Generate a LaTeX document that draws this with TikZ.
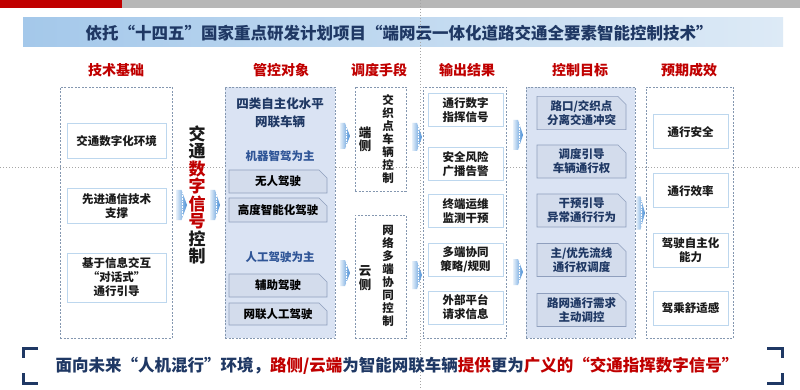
\documentclass[tikz,border=0pt]{standalone}
\usepackage{fontspec}
\setmainfont{Noto Sans CJK SC}
\usetikzlibrary{shapes.misc}
\definecolor{navy}{HTML}{1F3864}
\definecolor{hred}{HTML}{C00000}
\definecolor{dashc}{HTML}{8497B0}
\definecolor{lblue}{HTML}{BDD7EE}
\definecolor{panel}{HTML}{DAE3F3}
\definecolor{chip}{HTML}{D3DCEC}
\definecolor{chipd}{HTML}{8F9FBD}
\definecolor{midblue}{HTML}{2F5597}
\definecolor{guide}{HTML}{A6A6A6}
\definecolor{txt}{HTML}{1A1A1A}
\definecolor{arrL}{HTML}{E6F0FA}
\definecolor{arrR}{HTML}{4A8FD6}
\definecolor{banL}{HTML}{A4C8EA}
\definecolor{banR}{HTML}{DDEAF6}
\definecolor{topgray}{HTML}{B7B7B7}
\newcommand\fA{\bfseries\fontsize{11.5}{14}\selectfont}
\newcommand\fV{\bfseries\fontsize{11.5}{13}\selectfont}
\newcommand\fB{\bfseries\fontsize{12.5}{18}\selectfont}
\newcommand\fH{\bfseries\fontsize{14}{16}\selectfont}
\newcommand\fT{\bfseries\fontsize{16.5}{18}\selectfont}
\newcommand\fK{\bfseries\fontsize{17}{17.5}\selectfont}
\newcommand\barrow[4]{%
  \shade[left color=arrL, right color=arrR]
    (#1,{#2-#4/2}) -- ({#1+0.5*#3},{#2-#4/2}) -- ({#1+#3},#2)
    -- ({#1+0.5*#3},{#2+#4/2}) -- (#1,{#2+#4/2}) -- cycle;
  \draw[white, line width=0.7pt, dash pattern=on 0.7pt off 0.9pt]
    ({#1+0.62*#3},{#2-#4/2+3}) -- ({#1+0.62*#3},{#2+#4/2-3});}
\tikzset{
  dashbox/.style={draw=dashc, line width=0.8pt, dash pattern=on 2pt off 1.5pt, inner sep=0, outer sep=0},
  panelbox/.style={dashbox, fill=panel},
  wbox/.style={draw=lblue, fill=white, line width=1pt, inner sep=0, align=center, font=\fA, text=txt},
  chipbox/.style={chamfered rectangle, chamfered rectangle corners=north east,
    chamfered rectangle xsep=4pt, chamfered rectangle ysep=4pt,
    draw=chipd, fill=chip, line width=0.6pt, inner sep=0, align=center, font=\fA},
  head/.style={font=\fH, text=hred, inner sep=0},
  vtext/.style={font=\fV, align=center, inner sep=0, text=txt},
}
\begin{document}
\begin{tikzpicture}[x=1pt,y=-1pt]
\useasboundingbox (0,0) rectangle (800,390);
\fill[white] (0,0) rectangle (800,390);
% top bars
\fill[hred] (0,0) rectangle (122,8);
\fill[topgray] (122,0) rectangle (800,8);
% banner
\shade[left color=banL, right color=banR] (23,18) rectangle (783,47);
\node[font=\fT, text=navy, inner sep=0] (title) at (399,33) {依托“十四五”国家重点研发计划项目“端网云一体化道路交通全要素智能控制技术”};
% guides
\draw[guide, line width=0.5pt, dash pattern=on 1pt off 2pt] (0,167) -- (800,167);
\draw[guide, line width=0.5pt, dash pattern=on 1pt off 2pt] (420,0) -- (420,390);
% headers
\node[head] (h1) at (116,70) {技术基础};
\node[head] (h2) at (281,70) {管控对象};
\node[head] (h3) at (379,70) {调度手段};
\node[head] (h4) at (467,70) {输出结果};
\node[head] (h5) at (580,70) {控制目标};
\node[head] (h6) at (689,70) {预期成效};
% column 1
\node[dashbox, minimum width=112, minimum height=251] (c1) at (116,212.5) {};
\node[wbox, minimum width=99, minimum height=35] (b11) at (116.5,141.5) {交通数字化环境};
\node[wbox, minimum width=99, minimum height=34] (b12) at (116.5,206) {先进通信技术\\支撑};
\node[wbox, minimum width=99, minimum height=49] (b13) at (116.5,277.5) {基于信息交互\\“对话式”\\通行引导};
% vertical key text
\node[font=\fK, align=center, inner sep=0, text=txt] (key) at (197,195)
  {交\\通\\\textcolor{hred}{数}\\\textcolor{hred}{字}\\\textcolor{hred}{信}\\\textcolor{hred}{号}\\控\\制};
\barrow{176}{205}{11}{30}
\barrow{210}{205}{10}{30}
% column 2
\node[panelbox, minimum width=110, minimum height=251] (c2) at (280,212.5) {};
\node[font=\fB, text=navy, align=center, inner sep=0] (c2t) at (280,113) {四类自主化水平\\网联车辆};
\node[font=\fA, text=midblue, inner sep=0] (c2a) at (280,156) {机器智驾为主};
\node[chipbox, minimum width=98, minimum height=23] (b21) at (278,181.5) {无人驾驶};
\node[chipbox, minimum width=98, minimum height=24] (b22) at (278,210) {高度智能化驾驶};
\node[font=\fA, text=midblue, inner sep=0] (c2b) at (280,257) {人工驾驶为主};
\node[chipbox, minimum width=98, minimum height=23] (b23) at (278,285.5) {辅助驾驶};
\node[chipbox, minimum width=98, minimum height=22] (b24) at (278,314) {网联人工驾驶};
\barrow{340}{136}{10}{26}
\barrow{340}{273}{10}{26}
% column 3
\node[dashbox, minimum width=51, minimum height=104] (c3a) at (380.5,139) {};
\node[dashbox, minimum width=51, minimum height=123] (c3b) at (380.5,276.5) {};
\node[vtext, font=\bfseries\fontsize{12.5}{13.5}\selectfont] (dc) at (365,139.5) {端\\侧};
\node[vtext] (dct) at (388,139) {交\\织\\点\\车\\辆\\控\\制};
\node[vtext, font=\bfseries\fontsize{12.5}{13.5}\selectfont] (yc) at (365,278) {云\\侧};
\node[vtext] (yct) at (388,276) {网\\络\\多\\端\\协\\同\\控\\制};
\barrow{412}{137}{10}{28}
\barrow{412}{275}{10}{28}
% column 4
\node[dashbox, minimum width=83, minimum height=251] (c4) at (464.5,212.5) {};
\node[wbox, minimum width=75, minimum height=33] (b41) at (465.5,110.5) {通行数字\\指挥信号};
\node[wbox, minimum width=75, minimum height=33] (b42) at (465.5,164) {安全风险\\广播告警};
\node[wbox, minimum width=75, minimum height=33] (b43) at (465.5,211) {终端运维\\监测干预};
\node[wbox, minimum width=75, minimum height=33] (b44) at (465.5,260) {多端协同\\策略/规则};
\node[wbox, minimum width=75, minimum height=33] (b45) at (465.5,307.5) {外部平台\\请求信息};
\barrow{513}{135}{10}{30}
\barrow{513}{272}{10}{26}
% column 5
\node[panelbox, minimum width=109, minimum height=251] (c5) at (580.5,212.5) {};
\node[chipbox, text=navy, minimum width=89, minimum height=33] (b51) at (581.5,113) {路口/交织点\\分离交通冲突};
\node[chipbox, text=navy, minimum width=89, minimum height=33] (b52) at (581.5,161.5) {调度引导\\车辆通行权};
\node[chipbox, text=navy, minimum width=89, minimum height=33] (b53) at (581.5,210.5) {干预引导\\异常通行行为};
\node[chipbox, text=navy, minimum width=89, minimum height=33] (b54) at (581.5,260) {主/优先流线\\通行权调度};
\node[chipbox, text=navy, minimum width=89, minimum height=33] (b55) at (581.5,310) {路网通行需求\\主动调控};
\barrow{636}{213}{9}{33}
% column 6
\node[dashbox, minimum width=87, minimum height=251] (c6) at (689.5,212.5) {};
\node[wbox, minimum width=75, minimum height=34] (b61) at (690.5,132) {通行安全};
\node[wbox, minimum width=75, minimum height=34] (b62) at (690.5,191) {通行效率};
\node[wbox, minimum width=75, minimum height=34] (b63) at (690.5,250) {驾驶自主化\\能力};
\node[wbox, minimum width=75, minimum height=34] (b64) at (690.5,308.5) {驾乘舒适感};
% bottom statement
\draw[navy, line width=3pt] (38,348) -- (23,348) -- (23,358);
\draw[navy, line width=3pt] (23,373) -- (23,383) -- (38,383);
\draw[navy, line width=3pt] (767,348) -- (782,348) -- (782,358);
\draw[navy, line width=3pt] (782,373) -- (782,383) -- (767,383);
\node[font=\fT, text=navy, inner sep=0] (foot) at (397,366)
  {面向未来“人机混行”环境，\textcolor{hred}{路侧/云端}为智能网联车辆\textcolor{hred}{提供}更为\textcolor{hred}{广义的“交通指挥数字信号”}};
\end{tikzpicture}
\end{document}
